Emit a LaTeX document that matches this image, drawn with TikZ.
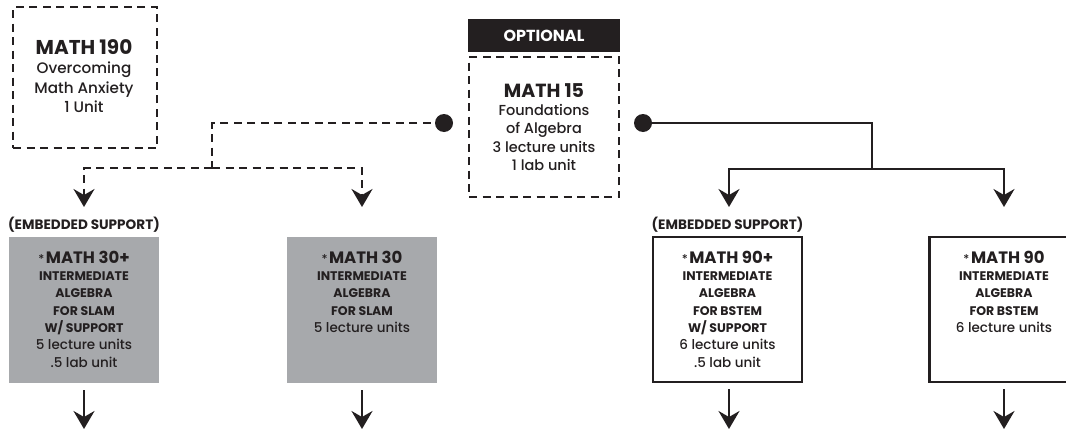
\documentclass[tikz,border=0pt]{standalone}
\usepackage{fontspec}
\setmainfont{Poppins}[UprightFont=* Medium, BoldFont=* Bold]
\usetikzlibrary{arrows.meta}
\definecolor{ink}{RGB}{35,31,32}
\definecolor{boxgray}{RGB}{167,169,172}
\begin{document}
\begin{tikzpicture}[x=1pt,y=-1pt,
  every node/.style={inner sep=0pt, outer sep=0pt, text=ink},
  dashbox/.style={rectangle, draw=ink, line width=2pt, dash pattern=on 8pt off 5.5pt},
  graybox/.style={rectangle, fill=boxgray, minimum width=150pt, minimum height=146pt},
  whitebox/.style={rectangle, draw=ink, fill=white, line width=2.3pt, minimum width=149pt, minimum height=145pt},
  optbox/.style={rectangle, fill=ink, minimum width=152pt, minimum height=33pt, text=white, font=\fontsize{16}{18}\selectfont\bfseries},
  dotnode/.style={circle, fill=ink, minimum size=18pt},
  dashconn/.style={draw=ink, line width=2pt, dash pattern=on 8pt off 5.5pt},
  solidconn/.style={draw=ink, line width=2.3pt},
  arrowed/.style={-{Stealth[length=18pt,width=21pt,inset=6pt]}},
  toptext/.style={align=center, font=\fontsize{15.2}{19.5}\selectfont},
  midtext/.style={align=center, font=\fontsize{14.5}{18.3}\selectfont},
  lowtext/.style={align=center, anchor=north, font=\fontsize{13.5}{17.3}\selectfont},
  embed/.style={font=\fontsize{13.6}{15}\selectfont\bfseries},
]
\useasboundingbox (0,0) rectangle (1066,434);
\clip (0,0) rectangle (1066,434);
\fill[white] (0,0) rectangle (1066,434);

% top boxes
\node[dashbox, minimum width=144pt, minimum height=141pt] (m190) at (85,77.5) {};
\node[toptext] (m190t) at (84,76) {{\fontsize{20}{19.5}\selectfont\bfseries MATH 190}\\Overcoming\\Math Anxiety\\1 Unit};

\node[optbox] (opt) at (544,35.5) {OPTIONAL};
\node[dashbox, minimum width=150pt, minimum height=140pt] (m15) at (544,127) {};
\node[midtext] (m15t) at (544,127) {{\fontsize{19}{18.3}\selectfont\bfseries MATH 15}\\Foundations\\of Algebra\\3 lecture units\\1 lab unit};

% connector points
\coordinate (jL) at (212,168);
\coordinate (jR) at (872,169);
\coordinate (t1) at (84,207);
\coordinate (t2) at (362,207);
\coordinate (t3) at (729,207);
\coordinate (t4) at (1004,207);
\coordinate (b1) at (84,429);
\coordinate (b2) at (362,429);
\coordinate (b3) at (729,429);
\coordinate (b4) at (1004,429);
\coordinate (dl) at (444,123);
\coordinate (dr) at (643,123);

\draw[dashconn] (dl) -| (jL);
\draw[dashconn, arrowed] (jL) -| (t1);
\draw[dashconn, arrowed] (jL) -| (t2);
\draw[solidconn] (dr) -| (jR);
\draw[solidconn, arrowed] (jR) -| (t3);
\draw[solidconn, arrowed] (jR) -| (t4);

\node[dotnode] (dotL) at (dl) {};
\node[dotnode] (dotR) at (dr) {};

% lower boxes
\node[embed] (lab1) at (84,225) {(EMBEDDED SUPPORT)};
\node[embed] (lab3) at (727.5,225) {(EMBEDDED SUPPORT)};

\node[graybox] (g1) at (84,310) {};
\node[graybox] (g2) at (362,310) {};
\node[whitebox] (w3) at (727.5,309.5) {};
\node[whitebox] (w4) at (1004,309.5) {};

\node[lowtext] (g1t) at (84,251) {{\fontsize{12}{17.3}\selectfont *}\hspace{1.5pt}{\fontsize{16.5}{17.3}\selectfont\bfseries MATH 30+}\\{\fontsize{12.5}{17.3}\selectfont\bfseries INTERMEDIATE}\\{\fontsize{12.5}{17.3}\selectfont\bfseries ALGEBRA}\\{\fontsize{12.5}{17.3}\selectfont\bfseries FOR SLAM}\\{\fontsize{12.5}{17.3}\selectfont\bfseries W/ SUPPORT}\\5 lecture units\\.5 lab unit};
\node[lowtext] (g2t) at (362,251) {{\fontsize{12}{17.3}\selectfont *}\hspace{1.5pt}{\fontsize{16.5}{17.3}\selectfont\bfseries MATH 30}\\{\fontsize{12.5}{17.3}\selectfont\bfseries INTERMEDIATE}\\{\fontsize{12.5}{17.3}\selectfont\bfseries ALGEBRA}\\{\fontsize{12.5}{17.3}\selectfont\bfseries FOR SLAM}\\5 lecture units};
\node[lowtext] (w3t) at (727.5,251) {{\fontsize{12}{17.3}\selectfont *}\hspace{1.5pt}{\fontsize{16.5}{17.3}\selectfont\bfseries MATH 90+}\\{\fontsize{12.5}{17.3}\selectfont\bfseries INTERMEDIATE}\\{\fontsize{12.5}{17.3}\selectfont\bfseries ALGEBRA}\\{\fontsize{12.5}{17.3}\selectfont\bfseries FOR BSTEM}\\{\fontsize{12.5}{17.3}\selectfont\bfseries W/ SUPPORT}\\6 lecture units\\.5 lab unit};
\node[lowtext] (w4t) at (1004,251) {{\fontsize{12}{17.3}\selectfont *}\hspace{1.5pt}{\fontsize{16.5}{17.3}\selectfont\bfseries MATH 90}\\{\fontsize{12.5}{17.3}\selectfont\bfseries INTERMEDIATE}\\{\fontsize{12.5}{17.3}\selectfont\bfseries ALGEBRA}\\{\fontsize{12.5}{17.3}\selectfont\bfseries FOR BSTEM}\\6 lecture units};

\draw[solidconn, arrowed, shorten <=7pt] (g1) -- (b1);
\draw[solidconn, arrowed, shorten <=7pt] (g2) -- (b2);
\draw[solidconn, arrowed, shorten <=7pt] (w3.south -| b3) -- (b3);
\draw[solidconn, arrowed, shorten <=7pt] (w4) -- (b4);
\end{tikzpicture}
\end{document}
